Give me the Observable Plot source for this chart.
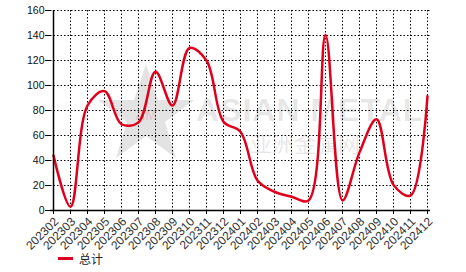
<!DOCTYPE html>
<html>
<head>
<meta charset="utf-8">
<script src="https://cdn.jsdelivr.net/npm/d3@7"></script>
<script src="https://cdn.jsdelivr.net/npm/@observablehq/plot@0.6"></script>
<style>
  html, body { margin: 0; padding: 0; background: #fff; }
  #wrap { position: relative; width: 466px; height: 272px; font-family: "Liberation Sans", Arial, sans-serif; }
  #legend { position: absolute; left: 58px; top: 250px; display: flex; align-items: center; font-size: 12px; color: #222; }
  #legend .sw { width: 15px; height: 0; border-top: 3px solid #e0001b; margin-right: 6px; }
  .wm { position: absolute; color: rgba(0,0,0,0.11); font-weight: bold; pointer-events: none; white-space: nowrap; }
  #chart { position: absolute; left: 0; top: 0; }
  #chart svg { background: transparent !important; }
  #wmstar { position: absolute; left: 96px; top: 62px; pointer-events: none; }
</style>
</head>
<body>
<div id="wrap">
  <svg id="wmstar" width="100" height="100" viewBox="0 0 100 100">
    <polygon points="50,2 62,38 98,38 69,60 80,96 50,74 20,96 31,60 2,38 38,38" fill="rgba(0,0,0,0.11)"/>
    <text x="50" y="58" text-anchor="middle" font-size="14" font-weight="bold" fill="rgba(224,0,27,0.12)" font-family="Liberation Sans">AM</text>
  </svg>
  <div class="wm" style="left:196px; top:92px; font-size:32px; letter-spacing:1px;">ASIAN METAL</div>
  <div class="wm" style="left:250px; top:126px; font-size:22px; font-weight:normal; font-family:'Noto Sans CJK SC';">亚洲金属网</div>
  <div id="chart"></div>
  <div id="legend"><div class="sw"></div><span style="font-family:'Noto Sans CJK SC';">总计</span></div>
</div>
<script>
const months = ["202302","202303","202304","202305","202306","202307","202308","202309","202310","202311","202312","202401","202402","202403","202404","202405","202406","202407","202408","202409","202410","202411","202412"];
const totals = [44, 3, 84, 95.5, 69, 70.5, 111, 84, 130, 120, 71, 63, 24, 15, 11, 8, 140.5, 8, 46.5, 73, 20.5, 12, 91.5];
const yTicks = [0, 20, 40, 60, 80, 100, 120, 140, 160];

const data = months.map((m, i) => ({month: m, value: totals[i]}));

const chart = Plot.plot({
  width: 466,
  height: 250,
  marginLeft: 50,
  marginRight: 36,
  marginTop: 10,
  marginBottom: 40,
  style: { fontFamily: "'Liberation Sans', Arial, sans-serif", fontSize: "11px", color: "#111", background: "transparent", overflow: "visible" },
  x: { type: "point", domain: months, padding: 0 },
  y: { domain: [0, 160] },
  marks: [
    Plot.gridY(yTicks, { stroke: "#000", strokeOpacity: 1, strokeDasharray: "1.5,2", strokeWidth: 1 }),
    Plot.gridX(months, { stroke: "#000", strokeOpacity: 1, strokeDasharray: "1.5,2", strokeWidth: 1 }),
    Plot.line(data, { x: "month", y: "value", stroke: "#e0001b", strokeWidth: 2.5, curve: "catmull-rom" }),
    Plot.ruleY([0], { stroke: "#000", strokeWidth: 1.5 }),
    Plot.ruleX([months[0]], { stroke: "#000", strokeWidth: 1.5 }),
    Plot.axisY(yTicks, { tickSize: 5, tickPadding: 1, label: null, fontSize: 10.5, stroke: "#000" }),
    Plot.axisX(months, { tickSize: 4, tickFormat: () => "", label: null, stroke: "#000" }),
    Plot.text(months, { x: d => d, frameAnchor: "bottom", text: d => d, rotate: -45, textAnchor: "end", lineAnchor: "middle", dx: 3, dy: 9, fontSize: 12, fill: "#333" })
  ]
});
document.getElementById("chart").appendChild(chart);
</script>
</body>
</html>
